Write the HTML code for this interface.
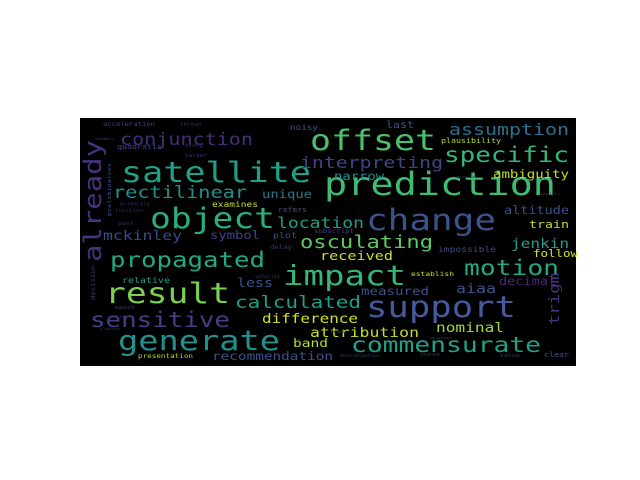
<!DOCTYPE html>
<html><head><meta charset="utf-8"><style>
html,body{margin:0;padding:0;background:#fff;width:640px;height:480px;overflow:hidden}
svg text{font-family:"DejaVu Sans Mono","Liberation Mono",monospace}
</style></head><body>
<svg id="cloud" width="640" height="480" viewBox="0 0 640 480" xmlns="http://www.w3.org/2000/svg">
<rect x="80" y="118" width="496" height="248" fill="#000"/>
<g id="words"></g>
</svg>
<script>
const words = ["satellite","object","result","generate","prediction","change","support","offset","impact","conjunction","specific","commensurate","motion","propagated","sensitive","already","rectilinear","unique","examines","refers","location","mckinley","symbol","plot","last","assumption","plausibility","interpreting","narrow","ambiguity","altitude","train","jenkin","osculating","relative","less","calculated","difference","band","attribution","recommendation","presentation","received","impossible","follow","establish","aiaa","decimal","trigm","measured","nominal","clear","acceleration","quadratic","function","preliminaries","subscript","noisy","threat","anomaly","primarily","larger","along","past","delay","velocity","decision","epoch","series","classic","determination","value","extension","rapidly","decrease","lead","curve"];
const xs = [121,150,105,118,324,366,366,310,283,120,444,351,464,110,90,101,113,262,212,278,277,103,210,273,386,449,441,300,334,493,504,529,511,300,122,237,235,262,293,310,212,138,320,438,533,411,456,499,559,361,436,544,103,117,115,111,314,290,180,95,120,185,185,118,270,255,95,115,110,100,340,500,455,540,430,330,420];
const ys = [182,228,303,350,195,230,317,150,285,145,162,352,275,267,327,262,198,198,207,212,228,240,239,238,128,135,143,168,180,178,214,228,248,248,283,287,308,323,347,337,360,358,260,252,257,276,293,285,325,295,332,357,126,149,212,216,233,130,126,140,205,157,147,225,249,278,300,309,318,330,357,357,178,195,339,333,356];
const ws = [190,125,125,162,232,130,150,126,123,133,125,190,95,155,140,122,134,50,46,29,87,79,50,24,28,120,60,143,50,76,65,40,58,133,48,36,126,96,35,109,121,55,73,58,45,43,40,57,52,68,68,25,52,45,28,53,40,28,22,20,30,22,18,16,22,25,35,20,18,20,40,20,22,20,22,14,20];
const colors = ["#1fa187","#29af7f","#7ad151","#21918c","#3fbc73","#3b528b","#465a9c","#4ac16d","#35b779","#472d7b","#35b779","#1fa187","#22a884","#22a884","#433e85","#46327e","#21918c","#2a788e","#c2df23","#3b528b","#1f9e89","#3e4989","#414487","#3b528b","#3b528b","#2c728e","#b5de2b","#414487","#21918c","#c8e020","#3b528b","#bddf26","#2a9d8f","#5ec962","#2a9d8f","#3b528b","#1f9e89","#d5e21a","#b8de29","#c0df25","#3b528b","#b5de2b","#c8e020","#3e4989","#d0e11c","#c8e020","#3b528b","#482878","#46327e","#3b528b","#a0da39","#3b528b","#443983","#404688","#31336b","#3b528b","#414487","#3b528b","#31336b","#31336b","#31336b","#31336b","#31336b","#31336b","#3a3a60","#3a3a60","#3a3a60","#3a3a60","#3a3a60","#3a3a60","#3a3a60","#3a3a60","#3a3a60","#3a3a60","#3a3a60","#3a3a60","#3a3a60"];
const rots = [0,0,0,0,0,0,0,0,0,0,0,0,0,0,0,-90,0,0,0,0,0,0,0,0,0,0,0,0,0,0,0,0,0,0,0,0,0,0,0,0,0,0,0,0,0,0,0,0,-90,0,0,0,0,0,0,-90,0,0,0,0,0,0,0,0,0,0,-90,0,0,0,0,0,0,0,0,0,0];
const g = document.getElementById('words');
for (let i = 0; i < words.length; i++) {
  const t = document.createElementNS('http://www.w3.org/2000/svg','text');
  
  
  const fs = 0.82 * ws[i] / (words[i].length * 0.602);
  t.setAttribute('font-size', fs.toFixed(2));
  t.setAttribute('fill', colors[i]);
  t.setAttribute('textLength', ws[i]);
  t.setAttribute('lengthAdjust', 'spacingAndGlyphs');
  if (rots[i] !== 0) {
    t.setAttribute('transform', 'translate(' + xs[i] + ',' + ys[i] + ') rotate(' + rots[i] + ')');
  } else {
    t.setAttribute('x', xs[i]);
    t.setAttribute('y', ys[i]);
  }
  t.textContent = words[i];
  g.appendChild(t);
}
</script>
</body></html>
